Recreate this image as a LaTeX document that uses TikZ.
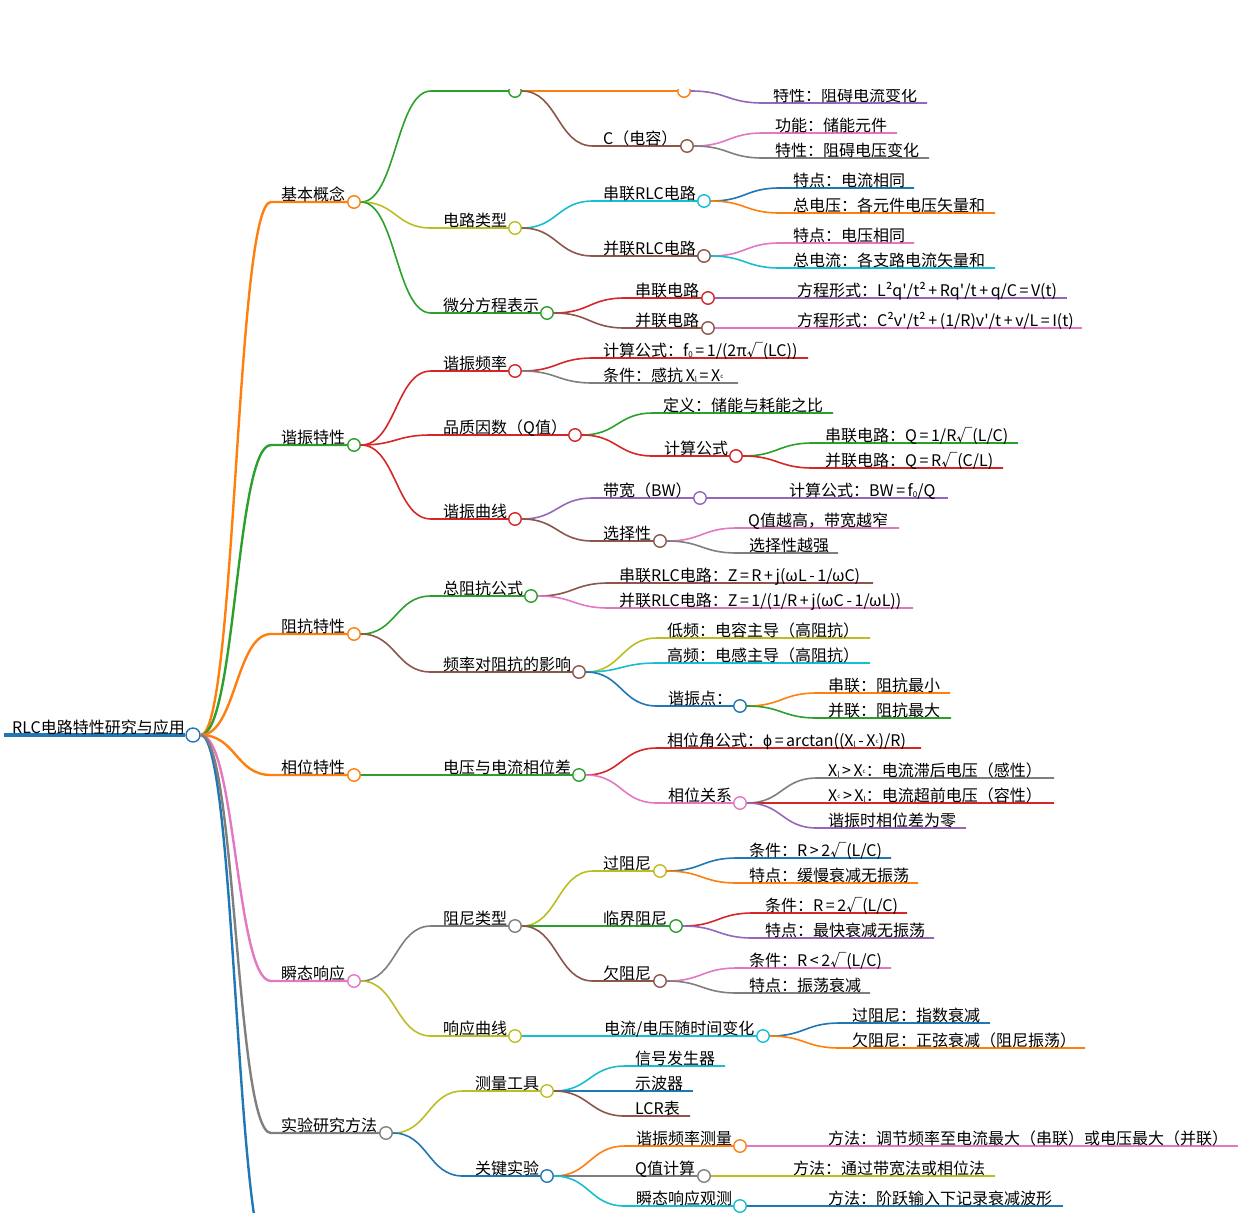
\documentclass[tikz,border=0pt]{standalone}
\usepackage{fontspec}
\newfontfamily\cjkface[WordSpace=0.72]{Noto Sans CJK SC}
\newfontfamily\phiface{Liberation Sans}
\usetikzlibrary{calc}
\definecolor{cblue}{HTML}{1F77B4}
\definecolor{corange}{HTML}{FF7F0E}
\definecolor{cgreen}{HTML}{2CA02C}
\definecolor{cred}{HTML}{D62728}
\definecolor{cpurple}{HTML}{9467BD}
\definecolor{cbrown}{HTML}{8C564B}
\definecolor{cpink}{HTML}{E377C2}
\definecolor{cgrey}{HTML}{7F7F7F}
\definecolor{colive}{HTML}{BCBD22}
\definecolor{ccyan}{HTML}{17BECF}
\tikzset{
  dotmark/.style={circle,draw,fill=white,inner sep=0pt,minimum size=12.5pt,line width=1.4pt},
  textlabel/.style={anchor=base west,inner sep=0pt,yshift=1.8pt,font=\cjkface\fontsize{16}{19}\selectfont},
  linkline/.style={line width=#1}
}
% small index letters
\newcommand{\szero}{{\raisebox{-0.05em}{\fontsize{8}{9}\selectfont 0}}}
\newcommand{\sbl}{{\raisebox{-0.08em}{\fontsize{7.5}{8}\selectfont l}}}
\newcommand{\sdc}{{\raisebox{0.2em}{\fontsize{6}{7}\selectfont c}}}
% link from a parent to a start point, underline on to a mark
% #1 width, #2 parent, #3 name, #4 colour, #5 start x, #6 mark x, #7 y, #8 label x, #9 text
\newcommand{\mapbranch}[9][1.6pt]{%
  \coordinate (#3-s) at (#5,#7);
  \node[dotmark,draw=#4] (#3) at (#6,#7) {};
  \draw[#4,linkline=#1] let \p1=(#2.east),\p2=(#3-s) in
    (\p1) .. controls ({0.5*\x1+0.5*\x2},\y1) and ({0.5*\x1+0.5*\x2},\y2) .. (\p2) -- (#3.west);
  \node[textlabel] (#3-t) at (#8,#7) {#9};
}
% the same with no mark at the end
\newcommand{\mapleaf}[9][1.6pt]{%
  \coordinate (#3-s) at (#5,#7);
  \coordinate (#3) at (#6,#7);
  \draw[#4,linkline=#1] let \p1=(#2.east),\p2=(#3-s) in
    (\p1) .. controls ({0.5*\x1+0.5*\x2},\y1) and ({0.5*\x1+0.5*\x2},\y2) .. (\p2) -- (#3);
  \node[textlabel] (#3-t) at (#8,#7) {#9};
}
\begin{document}
\begin{tikzpicture}[x=1pt,y=-1pt]
  \useasboundingbox (0,0) rectangle (1244,1216);
  \begin{scope}
  \clip (0,89.5) rectangle (1244,1212);

  % Root
  \coordinate (root-s) at (4,735);
  \node[dotmark,draw=cblue,minimum size=14pt] (root) at (193,735) {};
  \draw[cblue,line width=3.6pt] (root-s) -- (root.west);
  \node[textlabel] (root-t) at (12,735) {RLC电路特性研究与应用};

  % Branch running off the page
  \coordinate (rest) at (271,1267);
  \draw[cblue,linkline=2.4pt] let \p1=(root.east),\p2=(rest) in
    (\p1) .. controls ({0.5*\x1+0.5*\x2},\y1) and ({0.5*\x1+0.5*\x2},\y2) .. (\p2);

  % Basic concepts
  \mapbranch[2.4pt]{root}{basic}{corange}{271}{354}{202}{281}{基本概念}
  \mapbranch{basic}{parts}{cgreen}{431}{515}{91}{443}{}
  \mapbranch{parts}{inductor}{corange}{593}{684}{91}{603}{}
  \mapleaf{inductor}{inductorb}{cpurple}{763}{927}{103}{773}{特性：阻碍电流变化}
  \mapbranch{parts}{capacitor}{cbrown}{593}{687}{146}{603}{C（电容）}
  \mapleaf{capacitor}{capacitora}{cpink}{763}{897}{133}{775}{功能：储能元件}
  \mapleaf{capacitor}{capacitorb}{cgrey}{763}{929}{158}{775}{特性：阻碍电压变化}
  \mapbranch{basic}{types}{colive}{431}{515}{228}{443}{电路类型}
  \mapbranch{types}{series}{ccyan}{593}{704}{201}{603}{串联RLC电路}
  \mapleaf{series}{seriesa}{cblue}{780}{914}{188}{793}{特点：电流相同}
  \mapleaf{series}{seriesb}{corange}{780}{995}{213}{793}{总电压：各元件电压矢量和}
  \mapbranch{types}{parallel}{cbrown}{593}{704}{256}{603}{并联RLC电路}
  \mapleaf{parallel}{parallela}{cpink}{780}{914}{243}{793}{特点：电压相同}
  \mapleaf{parallel}{parallelb}{ccyan}{780}{995}{268}{793}{总电流：各支路电流矢量和}
  \mapbranch{basic}{equations}{cgreen}{431}{547}{313}{443}{微分方程表示}
  \mapbranch{equations}{eqseries}{cred}{625}{708}{298}{635}{串联电路}
  \mapleaf{eqseries}{eqseriesa}{cpurple}{785}{1067}{298}{797}{方程形式：L²q'/t² + Rq'/t + q/C = V(t)}
  \mapbranch{equations}{eqparallel}{cbrown}{625}{708}{328}{635}{并联电路}
  \mapleaf{eqparallel}{eqparallela}{cpink}{785}{1082}{328}{797}{方程形式：C²v'/t² + (1/R)v'/t + v/L = I(t)}

  % Resonance
  \mapbranch[2.4pt]{root}{resonance}{cgreen}{271}{354}{445}{281}{谐振特性}
  \mapbranch{resonance}{frequency}{cred}{431}{515}{371}{443}{谐振频率}
  \mapleaf{frequency}{frequencya}{cred}{593}{808}{358}{603}{计算公式：f\szero{} = 1/(2π√(LC))}
  \mapleaf{frequency}{frequencyb}{cgrey}{593}{738}{383}{603}{条件：感抗 X\sbl{} = X\sdc}
  \mapbranch{resonance}{quality}{cred}{431}{575}{435}{443}{品质因数（Q值）}
  \mapleaf{quality}{qualitya}{cgreen}{653}{833}{413}{663}{定义：储能与耗能之比}
  \mapbranch{quality}{qualityb}{cred}{653}{736}{456}{664}{计算公式}
  \mapleaf{qualityb}{qseries}{cgreen}{813}{1018}{443}{825}{串联电路：Q = 1/R√(L/C)}
  \mapleaf{qualityb}{qparallel}{cred}{813}{1003}{468}{825}{并联电路：Q = R√(C/L)}
  \mapbranch{resonance}{curve}{cred}{431}{515}{519}{443}{谐振曲线}
  \mapbranch{curve}{bandwidth}{cpurple}{593}{700}{498}{603}{带宽（BW）}
  \mapleaf{bandwidth}{bandwidtha}{cpurple}{777}{948}{498}{789}{计算公式：BW = f\szero{}/Q}
  \mapbranch{curve}{selectivity}{cbrown}{593}{660}{541}{603}{选择性}
  \mapleaf{selectivity}{selectivitya}{cpink}{737}{899}{528}{748}{Q值越高，带宽越窄}
  \mapleaf{selectivity}{selectivityb}{cgrey}{737}{838}{553}{749}{选择性越强}

  % Impedance
  \mapbranch[2.4pt]{root}{impedance}{corange}{271}{354}{634}{281}{阻抗特性}
  \mapbranch{impedance}{total}{cgreen}{431}{531}{596}{443}{总阻抗公式}
  \mapleaf{total}{totala}{cbrown}{609}{873}{583}{619}{串联RLC电路：Z = R + j(ωL - 1/ωC)}
  \mapleaf{total}{totalb}{cpink}{609}{913}{608}{619}{并联RLC电路：Z = 1/(1/R + j(ωC - 1/ωL))}
  \mapbranch{impedance}{effect}{cbrown}{431}{579}{672}{443}{频率对阻抗的影响}
  \mapleaf{effect}{effecta}{colive}{657}{870}{638}{667}{低频：电容主导（高阻抗）}
  \mapleaf{effect}{effectb}{ccyan}{657}{870}{663}{667}{高频：电感主导（高阻抗）}
  \mapbranch{effect}{point}{cblue}{657}{740}{706}{668}{谐振点：}
  \mapleaf{point}{pointa}{corange}{817}{950}{693}{828}{串联：阻抗最小}
  \mapleaf{point}{pointb}{cgreen}{817}{951}{718}{828}{并联：阻抗最大}

  % Phase
  \mapbranch[2.4pt]{root}{phase}{corange}{271}{354}{775}{281}{相位特性}
  \mapbranch{phase}{difference}{cgreen}{431}{579}{775}{443}{电压与电流相位差}
  \mapleaf{difference}{differencea}{cred}{657}{921}{748}{667}{相位角公式：{\phiface ϕ} = arctan((X\sbl{} - X\sdc)/R)}
  \mapbranch{difference}{relation}{cpink}{657}{740}{803}{668}{相位关系}
  \mapleaf{relation}{relationa}{cgrey}{817}{1054}{778}{828}{X\sbl{} > X\sdc：电流滞后电压（感性）}
  \mapleaf{relation}{relationb}{cred}{817}{1054}{803}{828}{X\sdc{} > X\sbl：电流超前电压（容性）}
  \mapleaf{relation}{relationc}{cpurple}{817}{966}{828}{828}{谐振时相位差为零}

  % Transient response
  \mapbranch[2.4pt]{root}{transient}{cpink}{271}{354}{981}{281}{瞬态响应}
  \mapbranch{transient}{damping}{cgrey}{431}{515}{926}{443}{阻尼类型}
  \mapbranch{damping}{over}{colive}{593}{660}{871}{603}{过阻尼}
  \mapleaf{over}{overa}{cblue}{737}{891}{858}{749}{条件：R > 2√(L/C)}
  \mapleaf{over}{overb}{corange}{737}{918}{883}{749}{特点：缓慢衰减无振荡}
  \mapbranch{damping}{critical}{cgreen}{593}{676}{926}{603}{临界阻尼}
  \mapleaf{critical}{criticala}{cred}{753}{907}{913}{765}{条件：R = 2√(L/C)}
  \mapleaf{critical}{criticalb}{cpurple}{753}{934}{938}{765}{特点：最快衰减无振荡}
  \mapbranch{damping}{under}{cbrown}{593}{660}{981}{603}{欠阻尼}
  \mapleaf{under}{undera}{cpink}{737}{891}{968}{749}{条件：R < 2√(L/C)}
  \mapleaf{under}{underb}{cgrey}{737}{870}{993}{749}{特点：振荡衰减}
  \mapbranch{transient}{response}{colive}{431}{515}{1036}{443}{响应曲线}
  \mapbranch{response}{timing}{ccyan}{593}{763}{1036}{604}{电流/电压随时间变化}
  \mapleaf{timing}{timinga}{cblue}{840}{990}{1023}{852}{过阻尼：指数衰减}
  \mapleaf{timing}{timingb}{corange}{840}{1085}{1048}{852}{欠阻尼：正弦衰减（阻尼振荡）}

  % Experiment
  \mapbranch[2.4pt]{root}{method}{cgrey}{271}{386}{1133}{281}{实验研究方法}
  \mapbranch{method}{tools}{colive}{463}{547}{1091}{475}{测量工具}
  \mapleaf{tools}{toolsa}{ccyan}{625}{725}{1066}{635}{信号发生器}
  \mapleaf{tools}{toolsb}{cblue}{625}{693}{1091}{635}{示波器}
  \mapleaf{tools}{toolsc}{cbrown}{625}{690}{1116}{635}{LCR表}
  \mapbranch{method}{key}{cblue}{463}{547}{1176}{475}{关键实验}
  \mapbranch{key}{keyfreq}{corange}{625}{740}{1146}{636}{谐振频率测量}
  \mapleaf{keyfreq}{keyfreqa}{cpink}{817}{1238}{1146}{828}{方法：调节频率至电流最大（串联）或电压最大（并联）}
  \mapbranch{key}{keyq}{cgrey}{625}{704}{1176}{635}{Q值计算}
  \mapleaf{keyq}{keyqa}{colive}{781}{995}{1176}{793}{方法：通过带宽法或相位法}
  \mapbranch{key}{keystep}{ccyan}{625}{740}{1206}{636}{瞬态响应观测}
  \mapleaf{keystep}{keystepa}{cblue}{817}{1063}{1206}{828}{方法：阶跃输入下记录衰减波形}
  \end{scope}
\end{tikzpicture}
\end{document}
